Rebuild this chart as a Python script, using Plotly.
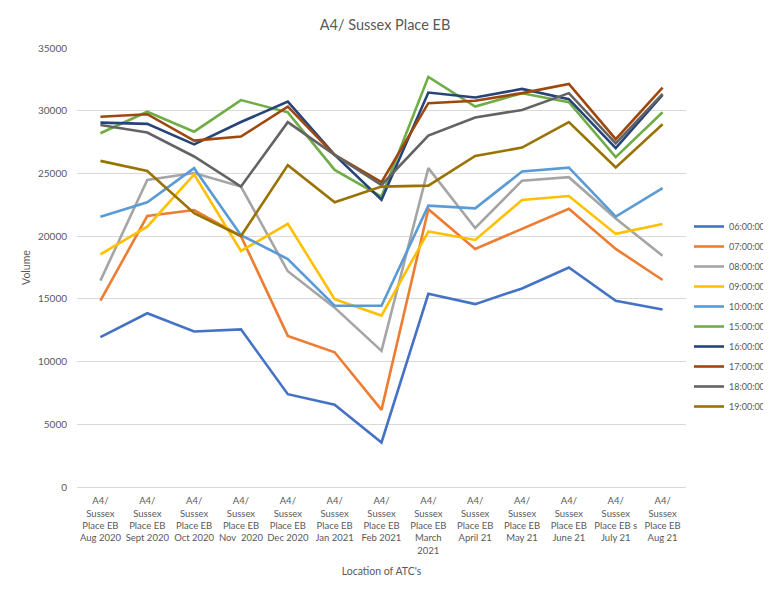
import plotly.graph_objects as go

categories = [
    "A4/<br>Sussex<br>Place EB<br>Aug 2020",
    "A4/<br>Sussex<br>Place EB<br>Sept 2020",
    "A4/<br>Sussex<br>Place EB<br>Oct 2020",
    "A4/<br>Sussex<br>Place EB<br>Nov  2020",
    "A4/<br>Sussex<br>Place EB<br>Dec 2020",
    "A4/<br>Sussex<br>Place EB<br>Jan 2021",
    "A4/<br>Sussex<br>Place EB<br>Feb 2021",
    "A4/<br>Sussex<br>Place EB<br>March<br>2021",
    "A4/<br>Sussex<br>Place EB<br>April 21",
    "A4/<br>Sussex<br>Place EB<br>May 21",
    "A4/<br>Sussex<br>Place EB<br>June 21",
    "A4/<br>Sussex<br>Place EB s<br>July 21",
    "A4/<br>Sussex<br>Place EB<br>Aug 21",
]

series_names = ["06:00:00", "07:00:00", "08:00:00", "09:00:00", "10:00:00",
                "15:00:00", "16:00:00", "17:00:00", "18:00:00", "19:00:00"]

v0600 = [11950, 13850, 12400, 12570, 7400, 6560, 3550, 15400, 14580, 15830, 17500, 14850, 14150]
v0700 = [14850, 21600, 22080, 20000, 12050, 10740, 6150, 22150, 18980, 20550, 22180, 18980, 16500]
v0800 = [16450, 24480, 25030, 23950, 17200, 14300, 10850, 25420, 20650, 24420, 24700, 21400, 18430]
v0900 = [18550, 20750, 24920, 18820, 20980, 14980, 13670, 20370, 19700, 22880, 23200, 20180, 20960]
v1000 = [21550, 22700, 25420, 20080, 18180, 14450, 14450, 22430, 22220, 25150, 25460, 21550, 23820]
v1500 = [28200, 29920, 28330, 30850, 29870, 25280, 23160, 32700, 30330, 31390, 30680, 26300, 29880]
v1600 = [29050, 28950, 27320, 29100, 30720, 26480, 22900, 31450, 31050, 31740, 30920, 27020, 31260]
v1700 = [29520, 29720, 27620, 27940, 30330, 26480, 24300, 30600, 30800, 31400, 32140, 27730, 31840]
v1800 = [28860, 28260, 26350, 23950, 29090, 26480, 24080, 28020, 29460, 30060, 31400, 27400, 31340]
v1900 = [26000, 25200, 21830, 20010, 25660, 22700, 23950, 24030, 26400, 27060, 29100, 25470, 28920]

series_values = [v0600, v0700, v0800, v0900, v1000, v1500, v1600, v1700, v1800, v1900]
colors = ["#4472C4", "#ED7D31", "#A5A5A5", "#FFC000", "#5B9BD5",
          "#70AD47", "#264478", "#9E480E", "#636363", "#997300"]

y_ticks = [0, 5000, 10000, 15000, 20000, 25000, 30000, 35000]

FONT = "Lato, 'Open Sans', sans-serif"
GREY = "#595959"

fig = go.Figure()
for name, vals, col in zip(series_names, series_values, colors):
    fig.add_trace(go.Scatter(
        x=categories, y=vals, name=name, mode="lines", legendgroup=name,
        line=dict(color=col, width=2.6),
    ))

# page has an 8px body margin; work in page pixels, convert to figure pixels
O = 8
W, H = 800, 590 - O
L, R, T, B = 77 - O, 686 - O, 48 - O, 487 - O
pw, ph = R - L, B - T

def px_x(p):  # page px -> paper x
    return (p - O - L) / pw

def px_y(p):  # page px -> paper y
    return (B - (p - O)) / ph

fig.update_layout(
    width=W, height=H,
    margin=dict(l=L, r=W - R, t=T, b=H - B),
    paper_bgcolor="white", plot_bgcolor="white",
    font=dict(family=FONT, color=GREY, size=10),
    title=dict(text="A4/ Sussex Place EB", x=(385 - O) / W, xref="container",
               y=1 - (25 - O) / H, yref="container", yanchor="middle", xanchor="center",
               font=dict(size=14.5, color=GREY, family=FONT)),
    showlegend=True,
    legend=dict(x=px_x(689), y=px_y(212), xanchor="left", yanchor="top",
                xref="paper", yref="paper",
                font=dict(size=9, color=GREY, family=FONT),
                bgcolor="rgba(0,0,0,0)", itemwidth=30, tracegroupgap=1.0),
    xaxis=dict(type="category", range=[-0.5, 12.5], showgrid=False,
               showline=True, linecolor="#d9d9d9", linewidth=1,
               ticks="", ticklabelstandoff=5,
               tickfont=dict(size=9.5, color=GREY, family=FONT),
               tickangle=0,
               title=dict(text="Location of ATC's", font=dict(size=10.5, color=GREY, family=FONT),
                          standoff=12)),
    yaxis=dict(range=[0, 35000], tickvals=y_ticks, ticktext=[str(v) for v in y_ticks],
               showgrid=True, gridcolor="#d9d9d9", gridwidth=1,
               zeroline=False, showline=False, ticks="",
               ticklabelstandoff=9,
               tickfont=dict(size=10, color=GREY, family=FONT),
               title=dict(text="Volume", font=dict(size=10.5, color=GREY, family=FONT),
                          standoff=5)),
    shapes=[dict(type="rect", xref="paper", yref="paper",
                 x0=px_x(6), x1=px_x(830), y0=px_y(620), y1=px_y(5),
                 line=dict(color="#d9d9d9", width=1.2), fillcolor="rgba(0,0,0,0)", layer="below")],
)

fig.write_html("out.html")
